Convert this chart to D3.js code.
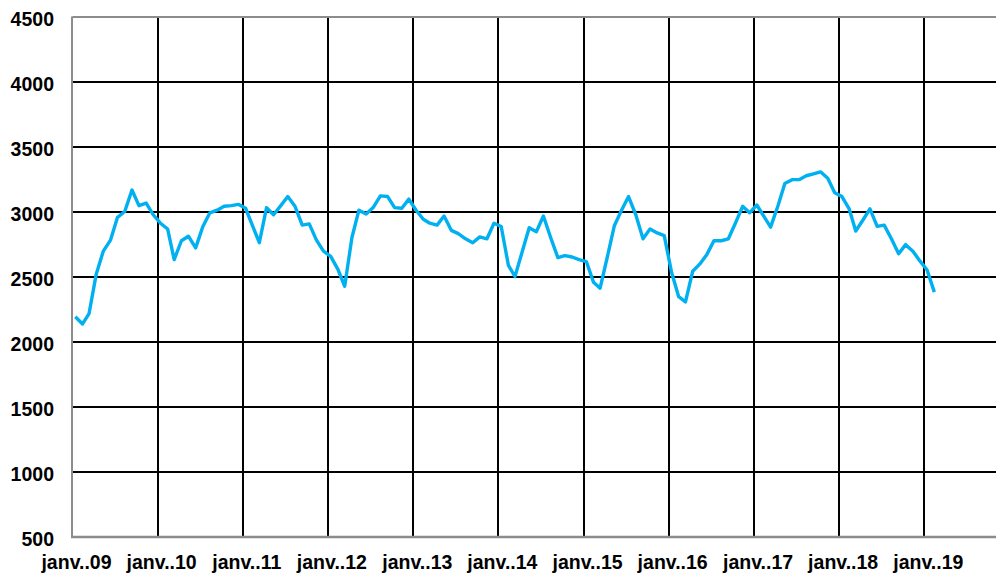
<!DOCTYPE html>
<html>
<head>
<meta charset="utf-8">
<script src="https://cdn.jsdelivr.net/npm/d3@7"></script>
<style>
  html, body { margin: 0; padding: 0; background: #fff; }
  svg { display: block; }
  text { font-family: "Liberation Sans", Arial, sans-serif; font-weight: bold; fill: #000; }
</style>
</head>
<body>
<svg id="chart" width="996" height="579"></svg>
<script>
// ---- data ----
const startYear = 2009;           // first observation: janv. 2009, monthly
const values = [
  2190, 2135, 2215, 2520, 2695, 2780, 2955, 3000, 3165, 3045, 3065, 2975,
  2910, 2865, 2630, 2775, 2810, 2720, 2880, 2990, 3010, 3040, 3045, 3055,
  3025, 2885, 2760, 3030, 2975, 3045, 3115, 3040, 2895, 2905, 2780, 2695,
  2655, 2555, 2425, 2800, 3010, 2980, 3030, 3120, 3115, 3030, 3025, 3095,
  3010, 2940, 2910, 2895, 2965, 2855, 2830, 2790, 2760, 2805, 2790, 2910,
  2885, 2585, 2500, 2690, 2875, 2845, 2965, 2800, 2645, 2660, 2650, 2630,
  2615, 2455, 2410, 2650, 2890, 3010, 3115, 2975, 2790, 2865, 2835, 2815,
  2535, 2345, 2305, 2540, 2595, 2670, 2775, 2775, 2790, 2910, 3040, 2990,
  3050, 2960, 2880, 3040, 3215, 3245, 3245, 3275, 3290, 3305, 3255, 3145,
  3115, 3020, 2850, 2935, 3020, 2885, 2895, 2790, 2675, 2745, 2695, 2620,
  2550, 2380
];
const yTicks = [500, 1000, 1500, 2000, 2500, 3000, 3500, 4000, 4500];
const xTickYears = [2009, 2010, 2011, 2012, 2013, 2014, 2015, 2016, 2017, 2018, 2019];
const xTickLabels = ["janv..09", "janv..10", "janv..11", "janv..12", "janv..13", "janv..14",
                     "janv..15", "janv..16", "janv..17", "janv..18", "janv..19"];

// ---- layout ----
const plotL = 72.5, plotT = 16.5, plotB = 536.5, plotR = 1000;

const svg = d3.select("#chart");

const x = d3.scaleTime()
  .domain([new Date(2009, 0, 1), new Date(2019, 0, 1)])
  .range([plotL, 924.3]);
const y = d3.scaleLinear().domain([500, 4500]).range([plotB, plotT]);

const data = values.map((v, i) => ({ date: new Date(startYear, i, 13), v }));

// horizontal gridlines
svg.append("g").selectAll("line")
  .data(yTicks.filter(t => t > 500 && t < 4500))
  .join("line")
  .attr("x1", plotL).attr("x2", plotR)
  .attr("y1", d => Math.round(y(d))).attr("y2", d => Math.round(y(d)))
  .attr("stroke", "#000").attr("stroke-width", 2);

// vertical gridlines (January of each year)
svg.append("g").selectAll("line")
  .data(xTickYears.slice(1))
  .join("line")
  .attr("x1", d => Math.round(x(new Date(d, 0, 1)))).attr("x2", d => Math.round(x(new Date(d, 0, 1))))
  .attr("y1", plotT).attr("y2", plotB)
  .attr("stroke", "#000").attr("stroke-width", 2);

// plot frame (gray)
svg.append("line").attr("x1", plotL).attr("x2", plotR).attr("y1", 17).attr("y2", 17)
  .attr("stroke", "#8c8c8c").attr("stroke-width", 2);
svg.append("line").attr("x1", 72).attr("x2", 72).attr("y1", plotT).attr("y2", plotB + 1)
  .attr("stroke", "#8c8c8c").attr("stroke-width", 2);
svg.append("line").attr("x1", 71).attr("x2", plotR).attr("y1", 537).attr("y2", 537)
  .attr("stroke", "#8c8c8c").attr("stroke-width", 2.5);

// y axis labels
const yAxis = d3.axisLeft(y).tickValues(yTicks).tickFormat(d3.format("d")).tickSize(0).tickPadding(0);
const gy = svg.append("g").attr("transform", `translate(54,0)`).call(yAxis);
gy.select(".domain").remove();
gy.selectAll("text")
  .attr("x", 0).attr("dy", "0.38em").attr("y", 2)
  .style("font-size", "19.5px").style("font-weight", "bold")
  .style("font-family", '"Liberation Sans", Arial, sans-serif')
  .attr("fill", "#000");

// x axis labels
const xAxis = d3.axisBottom(x)
  .tickValues(xTickYears.map(yv => new Date(yv, 0, 1)))
  .tickFormat((d, i) => xTickLabels[i])
  .tickSize(0).tickPadding(0);
const gx = svg.append("g").attr("transform", `translate(3.5,${plotB})`).call(xAxis);
gx.select(".domain").remove();
gx.selectAll("text")
  .attr("y", 32.5).attr("dy", 0)
  .style("font-size", "19.5px").style("font-weight", "bold")
  .style("font-family", '"Liberation Sans", Arial, sans-serif')
  .attr("fill", "#000");

// series line
const line = d3.line().x(d => x(d.date)).y(d => y(d.v));
svg.append("path").datum(data)
  .attr("d", line)
  .attr("fill", "none")
  .attr("stroke", "#00B0F0")
  .attr("stroke-width", 3.4)
  .attr("stroke-linejoin", "round");
</script>
</body>
</html>
